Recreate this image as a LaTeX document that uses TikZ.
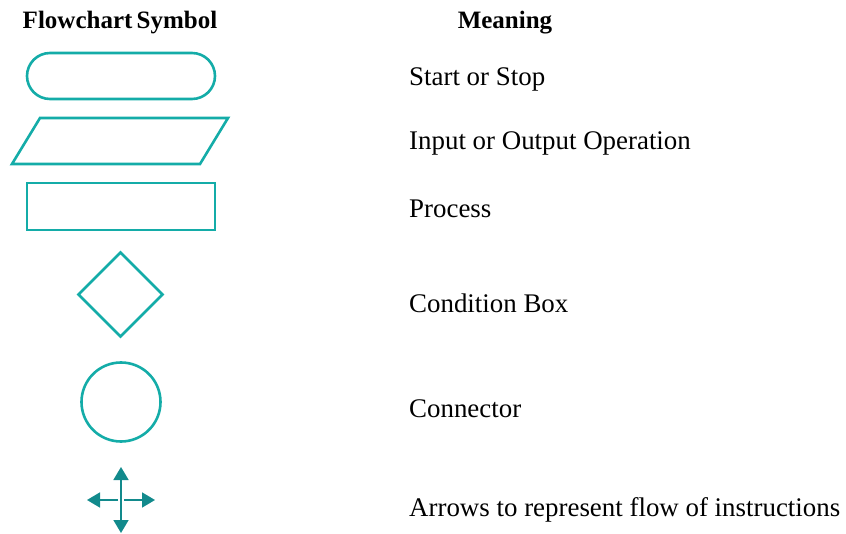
\documentclass[tikz,border=0pt]{standalone}
\usepackage{fontspec}
\setmainfont{Liberation Serif}
\usetikzlibrary{arrows.meta,shapes.misc,shapes.geometric}
\definecolor{symteal}{RGB}{20,172,168}
\definecolor{arrteal}{RGB}{18,138,140}

\begin{document}
\begin{tikzpicture}[x=1pt,y=-1pt]
    \useasboundingbox (0,0) rectangle (846,534);

    % headings
    \begin{scope}[every node/.style={font=\fontsize{25}{27}\selectfont\bfseries,inner sep=0pt}]
      \node (hsym) at (120,23) {Flowchart\kern-2pt\ Symbol};
      \node (hmean) at (505,23) {Meaning};
    \end{scope}

    % symbols
    \begin{scope}[every node/.style={draw=symteal,line width=2.6pt,inner sep=0pt}]
      \node (term) [rounded rectangle,minimum width=188pt,minimum height=46pt] at (121,76) {};
      \node (proc) [rectangle,minimum width=188pt,minimum height=47pt] at (121,206.5) {};
      \node (cond) [diamond,minimum width=85pt,minimum height=85pt] at (120.5,294.5) {};
      \node (conn) [circle,minimum size=79pt] at (121,402) {};
    \end{scope}
    \draw[symteal,line width=2.6pt,line join=miter] (40,118) -- (228,118) -- (200,164) -- (12,164) -- cycle;

    % flow arrows
    \coordinate (mid) at (121,500);
    \coordinate (up) at (121,467);
    \coordinate (down) at (121,533);
    \coordinate (left) at (87,500);
    \coordinate (right) at (155,500);
    \begin{scope}[arrteal,line width=1.8pt,-{Triangle[length=13pt,width=15pt]}]
      \draw ([yshift=-3pt]mid) -- (up);
      \draw ([yshift=3pt]mid) -- (down);
      \draw ([xshift=-3pt]mid) -- (left);
      \draw ([xshift=3pt]mid) -- (right);
    \end{scope}

    % meanings
    \begin{scope}[every node/.style={anchor=west,inner sep=0pt,font=\fontsize{26.9}{29}\selectfont}]
      \node (mterm) at (409,79) {Start or Stop};
      \node (mio) at (409,143) {Input or Output Operation};
      \node (mproc) at (409,209) {Process};
      \node (mcond) at (409,303) {Condition Box};
      \node (mconn) at (409,409) {Connector};
      \node (marr) at (409,510) {Arrows to represent flow of instructions};
    \end{scope}
\end{tikzpicture}
\end{document}
